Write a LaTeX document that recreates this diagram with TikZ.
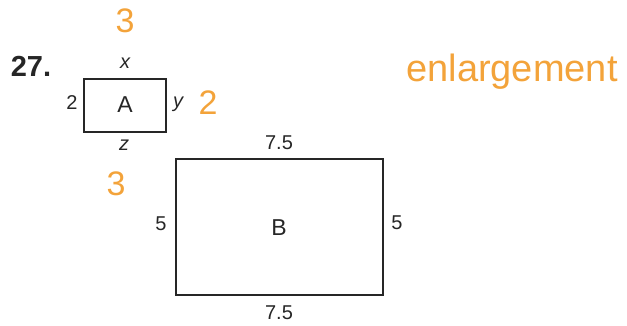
\documentclass[tikz,border=0pt]{standalone}
\usepackage{fontspec}
\setmainfont{Liberation Sans}
\begin{document}
\begin{tikzpicture}[x=1pt,y=-1pt,
  lbl/.style={inner sep=0pt, font=\fontsize{20}{20}\selectfont, text=black!85},
  big/.style={inner sep=0pt, font=\fontsize{23}{23}\selectfont, text=black!85},
  hand/.style={inner sep=0pt, text={rgb,255:red,243;green,163;blue,58}, font=\fontsize{34}{34}\selectfont},
  box/.style={draw=black!85, line width=2pt}]
\useasboundingbox (0,0) rectangle (627,325);
\node[inner sep=0pt, font=\bfseries\fontsize{29}{29}\selectfont, text=black!85] (num) at (31,66) {27.};
\draw[box] (84,79) rectangle (166,132);
\node[big] (A) at (125,105) {A};
\node[lbl] (x) at (125,63) {\itshape x};
\node[lbl] (z) at (124,145) {\itshape z};
\node[lbl] (two) at (72,103) {2};
\node[lbl] (y) at (178,104) {\itshape y};
\node[hand] (h3a) at (125,21) {3};
\node[hand] (h3b) at (116,184) {3};
\node[hand] (h2) at (208,103) {2};
\node[hand, font=\fontsize{38}{38}\selectfont] (enl) at (512,72) {enlargement};
\draw[box] (176,159) rectangle (383,295);
\node[big] (B) at (279,228) {B};
\node[lbl] (bt) at (279,143) {7.5};
\node[lbl] (bb) at (279,313) {7.5};
\node[lbl] (bl) at (161,224) {5};
\node[lbl] (br) at (397,223) {5};
\end{tikzpicture}
\end{document}
